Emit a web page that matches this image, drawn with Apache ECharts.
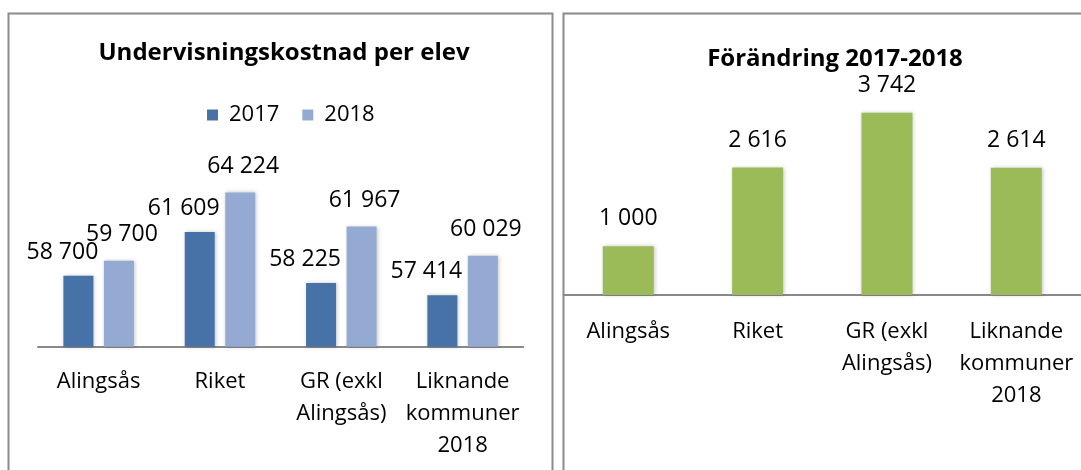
<!DOCTYPE html>
<html>
<head>
  <meta charset="UTF-8">
  <title>Undervisningskostnad per elev</title>
  <script src="https://cdn.jsdelivr.net/npm/echarts@6/dist/echarts.min.js"></script>
  <style type="text/css">
    html, body { margin: 0; padding: 0; background: #ffffff; }
    #chart { width: 1081px; height: 470px; }
  </style>
</head>
<body>
<div id="chart"></div>
<script type="text/javascript">
    // kategorier (radbrytning som i originalet)
    var kategorier = ['Alingsås', 'Riket', 'GR (exkl\nAlingsås)', 'Liknande\nkommuner\n2018'];
    var varden2017 = [58700, 61609, 58225, 57414];
    var varden2018 = [59700, 64224, 61967, 60029];
    var forandring = [1000, 2616, 3742, 2614];

    var font = "'Open Sans', 'Noto Sans', sans-serif";

    function mellanslag(v) {
        return String(v).replace(/\B(?=(\d{3})+(?!\d))/g, ' ');
    }

    var skugga = {
        shadowColor: 'rgba(0,0,0,0.22)',
        shadowBlur: 4,
        shadowOffsetX: 1,
        shadowOffsetY: 0
    };

    var myChart = echarts.init(document.getElementById('chart'));

    var option = {
        animation: false,
        backgroundColor: '#ffffff',
        textStyle: { fontFamily: font, color: '#000' },
        graphic: [
            {
                type: 'rect',
                shape: { x: 8.5, y: 13.5, width: 544, height: 500 },
                style: { fill: 'none', stroke: '#8a8a8a', lineWidth: 2 }
            },
            {
                type: 'rect',
                shape: { x: 563.5, y: 13.5, width: 600, height: 500 },
                style: { fill: 'none', stroke: '#8a8a8a', lineWidth: 2 }
            }
        ],
        title: [
            {
                text: 'Undervisningskostnad per elev',
                left: 279,
                textAlign: 'center',
                top: 36,
                textStyle: { fontFamily: font, fontWeight: 'bold', fontSize: 24, color: '#000' }
            },
            {
                text: 'Förändring 2017-2018',
                left: 830,
                textAlign: 'center',
                top: 42,
                textStyle: { fontFamily: font, fontWeight: 'bold', fontSize: 24, color: '#000' }
            }
        ],
        legend: {
            data: ['2017', '2018'],
            left: 202,
            top: 99,
            icon: 'rect',
            itemWidth: 11,
            itemHeight: 11,
            itemGap: 23,
            textStyle: { fontFamily: font, fontSize: 22, color: '#000', padding: [0, 0, 0, 6] }
        },
        grid: [
            { left: 38, right: 557.7, top: 165.7, bottom: 123.3 },
            { left: 563.6, right: -3, top: 100.2, bottom: 175 }
        ],
        xAxis: [
            {
                type: 'category',
                gridIndex: 0,
                data: kategorier,
                axisLine: { lineStyle: { color: '#898989', width: 2 } },
                axisTick: { show: false },
                axisLabel: { fontFamily: font, fontSize: 22, lineHeight: 32, color: '#000', margin: 19, interval: 0 }
            },
            {
                type: 'category',
                gridIndex: 1,
                data: kategorier,
                axisLine: { lineStyle: { color: '#898989', width: 2 } },
                axisTick: { show: false },
                axisLabel: { fontFamily: font, fontSize: 22, lineHeight: 32, color: '#000', margin: 21, interval: 0 }
            }
        ],
        yAxis: [
            { type: 'value', gridIndex: 0, min: 54000, max: 66000, show: false, splitLine: { show: false } },
            { type: 'value', gridIndex: 1, min: 0, max: 4000, show: false, splitLine: { show: false } }
        ],
        series: [
            {
                name: '2017',
                type: 'bar',
                xAxisIndex: 0,
                yAxisIndex: 0,
                data: varden2017,
                barWidth: 30,
                barGap: '35%',
                itemStyle: Object.assign({ color: '#4672a7' }, skugga),
                label: {
                    show: true,
                    position: 'top',
                    distance: 12,
                    offset: [-16, 0],
                    fontFamily: font,
                    fontSize: 23,
                    color: '#000',
                    formatter: function (p) { return mellanslag(p.value); }
                }
            },
            {
                name: '2018',
                type: 'bar',
                xAxisIndex: 0,
                yAxisIndex: 0,
                data: varden2018,
                barWidth: 30,
                barGap: '35%',
                itemStyle: Object.assign({ color: '#95aad3' }, skugga),
                label: {
                    show: true,
                    position: 'top',
                    distance: 15,
                    offset: [3, 0],
                    fontFamily: font,
                    fontSize: 23,
                    color: '#000',
                    formatter: function (p) { return mellanslag(p.value); }
                }
            },
            {
                name: 'Förändring',
                type: 'bar',
                xAxisIndex: 1,
                yAxisIndex: 1,
                data: forandring,
                barWidth: 51,
                itemStyle: Object.assign({ color: '#9bbb59' }, skugga),
                label: {
                    show: true,
                    position: 'top',
                    distance: 16,
                    fontFamily: font,
                    fontSize: 23,
                    color: '#000',
                    formatter: function (p) { return mellanslag(p.value); }
                }
            }
        ]
    };

    myChart.setOption(option);
</script>
</body>
</html>
